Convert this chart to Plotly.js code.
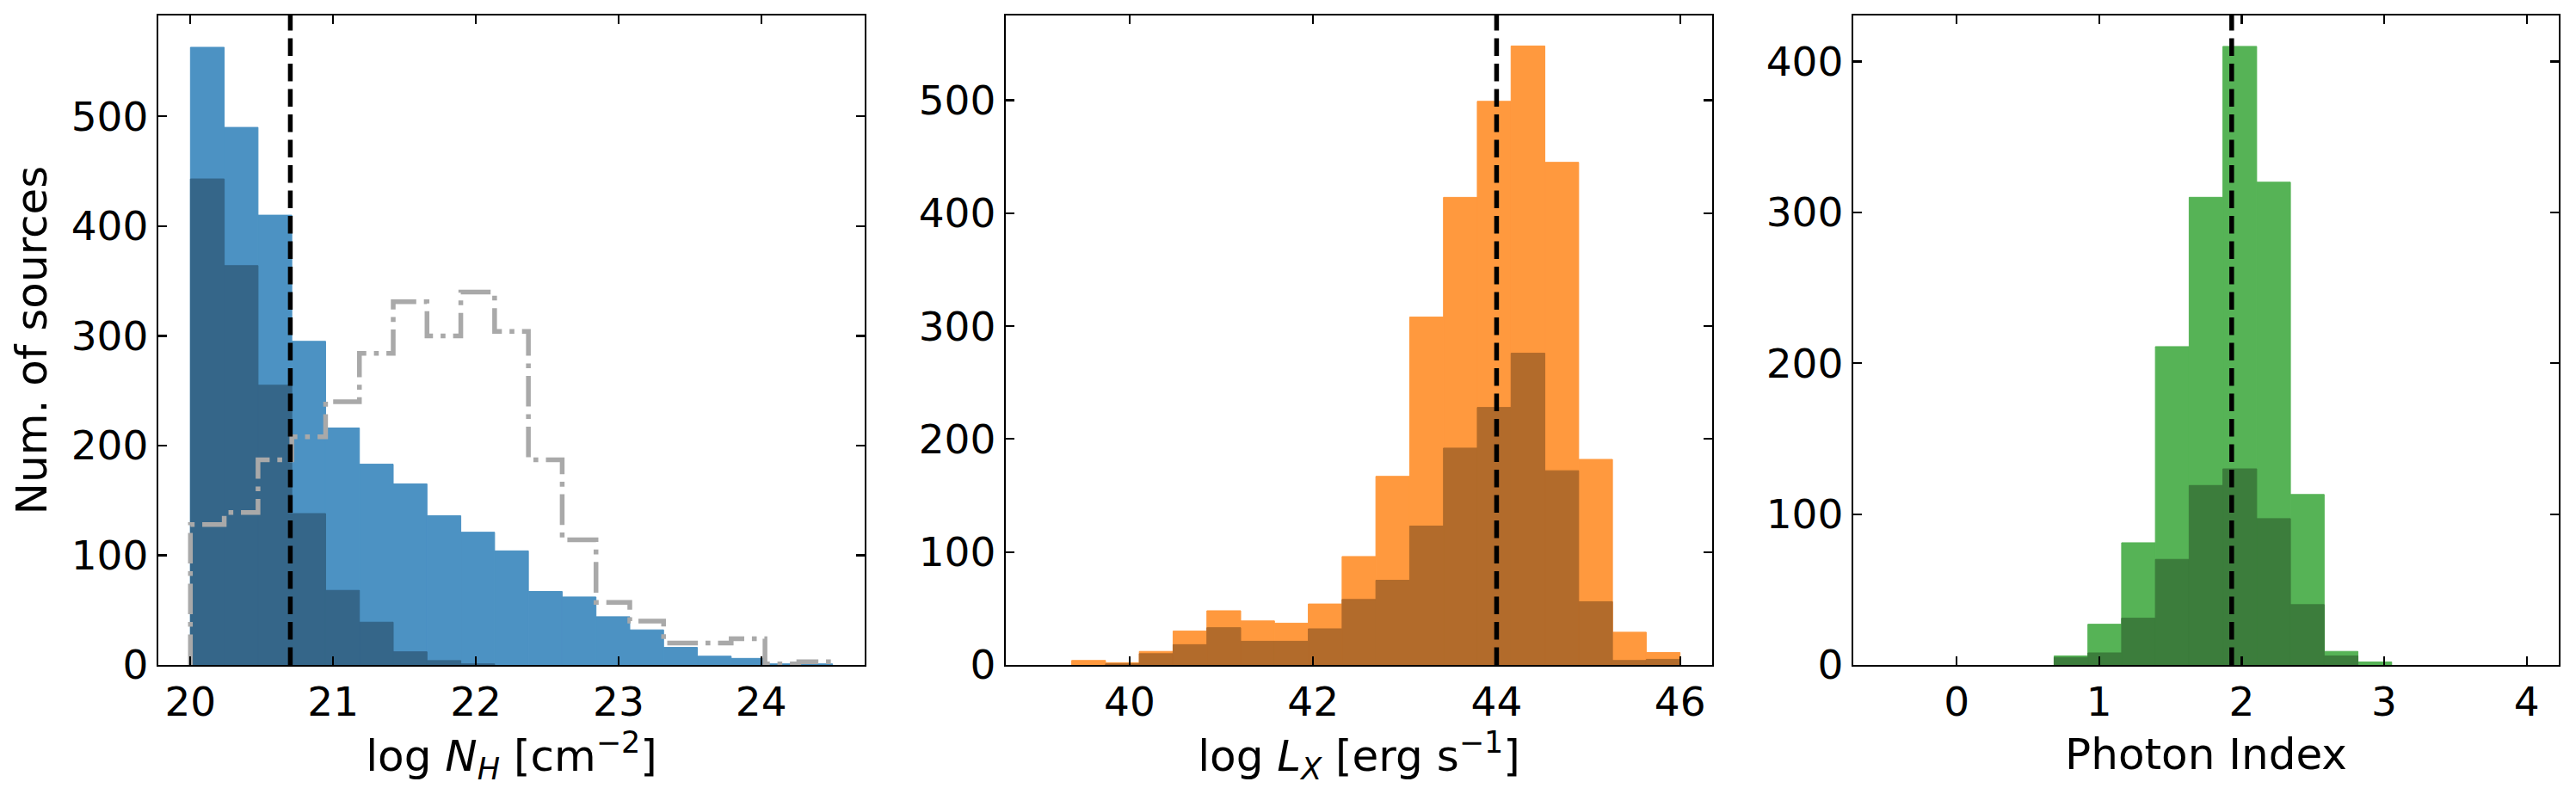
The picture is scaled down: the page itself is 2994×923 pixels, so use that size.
<!DOCTYPE html>
<html><head><meta charset="utf-8">
<script src="https://cdn.plot.ly/plotly-3.0.1.min.js"></script>
<style>html,body{margin:0;padding:0;background:#fff}</style>
</head><body><div id="chart" style="width:2994px;height:923px"></div>
<script>
// ---- data ----
const nBins = 19;
const nhBinRange = [20, 24.5];
const lxBinRange = [39, 46];
const gBinRange = [-0.5, 4];

// log N_H histogram: full sample, sub-sample, comparison (step)
const nhAll = [563, 490, 410, 295, 216, 183, 165, 136, 121, 104, 67, 62, 44, 32, 16, 8, 6, 1, 1];
const nhSub = [443, 364, 255, 138, 68, 39, 12, 4, 1, 0, 0, 0, 0, 0, 0, 0, 0, 0, 0];
const nhRef = [128, 139, 187, 208, 240, 284, 331, 300, 340, 304, 187, 114, 57, 40, 20, 20, 24, 1, 3];

// log L_X histogram
const lxAll = [0, 4, 2, 12, 30, 48, 39, 37, 54, 96, 167, 308, 414, 499, 548, 445, 182, 29, 11];
const lxSub = [0, 0, 1, 10, 18, 33, 21, 21, 32, 58, 75, 123, 192, 228, 276, 172, 56, 4, 5];

// Photon index histogram
const gAll = [0, 0, 0, 0, 0, 6, 27, 81, 211, 310, 410, 320, 113, 9, 2, 0, 0, 0, 0];
const gSub = [0, 0, 0, 0, 0, 5, 8, 31, 70, 119, 130, 97, 40, 6, 0, 0, 0, 0, 0];

// medians (dashed lines)
const nhMedian = 20.7;
const lxMedian = 44.0;
const gMedian = 1.93;

// axis titles
const xTitles = ['log <i>N</i><sub><i>H</i></sub> [cm<sup>−2</sup>]', 'log <i>L</i><sub><i>X</i></sub> [erg s<sup>−1</sup>]', 'Photon Index'];
const yTitle = 'Num. of sources';

// ---- helpers ----
function centers(range, n) {
  const w = (range[1] - range[0]) / n;
  return Array.from({length: n}, (_, i) => range[0] + (i + 0.5) * w);
}
function edges(range, n) {
  const w = (range[1] - range[0]) / n;
  return Array.from({length: n + 1}, (_, i) => range[0] + i * w);
}
function barTrace(range, counts, color, xa, ya) {
  const w = (range[1] - range[0]) / nBins;
  return {
    type: 'bar', x: centers(range, nBins), y: counts.map(v => (v > 0 ? v : null)), width: w,
    marker: {color: color, line: {width: 1, color: color}},
    xaxis: xa, yaxis: ya, hoverinfo: 'x+y', showlegend: false
  };
}
function stepTrace(range, counts, xa, ya) {
  const e = edges(range, nBins);
  const xs = [e[0]].concat(e.slice(0, nBins)).concat([e[nBins]]);
  const ys = [0].concat(counts).concat([0]);
  return {
    type: 'scatter', mode: 'lines', x: xs, y: ys,
    line: {shape: 'hv', color: '#a9a9a9', width: 5.5, dash: '35.6px,8.9px,5.6px,8.9px'},
    xaxis: xa, yaxis: ya, hoverinfo: 'skip', showlegend: false
  };
}

const blueL = 'rgb(76,146,195)', blueD = 'rgb(53,102,137)';
const orL = 'rgb(255,153,62)', orD = 'rgb(178,107,43)';
const grL = 'rgb(86,179,86)', grD = 'rgb(60,125,60)';

const traces = [
  barTrace(nhBinRange, nhAll, blueL, 'x', 'y'),
  barTrace(nhBinRange, nhSub, blueD, 'x', 'y'),
  stepTrace(nhBinRange, nhRef, 'x', 'y'),
  barTrace(lxBinRange, lxAll, orL, 'x2', 'y2'),
  barTrace(lxBinRange, lxSub, orD, 'x2', 'y2'),
  barTrace(gBinRange, gAll, grL, 'x3', 'y3'),
  barTrace(gBinRange, gSub, grD, 'x3', 'y3')
];

const W = 2994;
const common = {
  ticks: 'inside', ticklen: 10, tickwidth: 2.2, tickcolor: '#000',
  showline: true, linewidth: 2.2, linecolor: '#000', mirror: 'ticks',
  showgrid: false, zeroline: false, tickfont: {size: 47, color: '#000'},
  tickmode: 'linear', automargin: false
};
function xax(dom, range, tick0, dtick, title, anchor) {
  return Object.assign({}, common, {
    domain: dom, range: range, tick0: tick0, dtick: dtick, anchor: anchor,
    title: {text: title, font: {size: 50, color: '#000'}, standoff: 18}
  });
}
function yax(range, anchor, title) {
  const o = Object.assign({}, common, {range: range, tick0: 0, dtick: 100, anchor: anchor});
  if (title) o.title = {text: title, font: {size: 50, color: '#000'}, standoff: 12};
  return o;
}
const L = 184, R = 20;
const pw = W - L - R;
const dom = (a, b) => [(a - L) / pw, (b - L) / pw];
const medLine = {color: '#000', width: 5.5, dash: '20.6px,8.9px'};

const layout = {
  width: W, height: 923,
  margin: {l: L, r: R, t: 18, b: 150},
  paper_bgcolor: '#fff', plot_bgcolor: '#fff',
  font: {family: 'DejaVu Sans', color: '#000'},
  barmode: 'overlay', showlegend: false,
  xaxis: xax(dom(184, 1005), [19.775, 24.725], 20, 1, xTitles[0], 'y'),
  yaxis: yax([0, 592], 'x', yTitle),
  xaxis2: xax(dom(1169, 1990), [38.65, 46.35], 40, 2, xTitles[1], 'y2'),
  yaxis2: yax([0, 575], 'x2'),
  xaxis3: xax(dom(2154, 2974), [-0.725, 4.225], 0, 1, xTitles[2], 'y3'),
  yaxis3: yax([0, 430.5], 'x3'),
  shapes: [
    {type: 'line', xref: 'x', yref: 'y domain', x0: nhMedian, x1: nhMedian, y0: 0, y1: 1, line: medLine},
    {type: 'line', xref: 'x2', yref: 'y2 domain', x0: lxMedian, x1: lxMedian, y0: 0, y1: 1, line: medLine},
    {type: 'line', xref: 'x3', yref: 'y3 domain', x0: gMedian, x1: gMedian, y0: 0, y1: 1, line: medLine}
  ]
};

Plotly.newPlot('chart', traces, layout, {staticPlot: true, displayModeBar: false});
</script></body></html>
